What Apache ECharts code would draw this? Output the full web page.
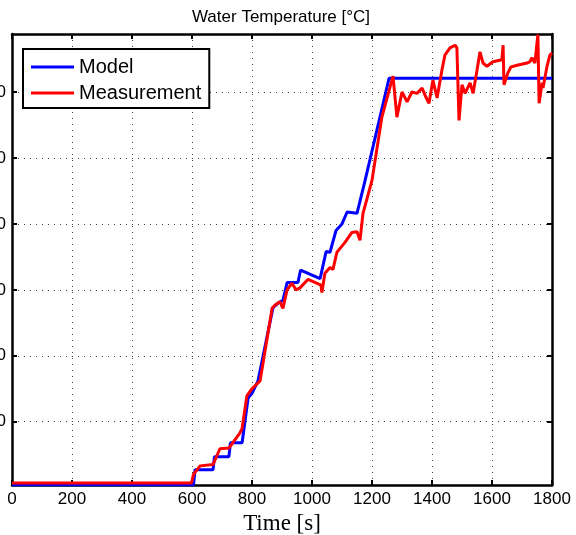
<!DOCTYPE html>
<html>
<head>
<meta charset="utf-8">
<script src="https://cdn.jsdelivr.net/npm/echarts@6/dist/echarts.min.js"></script>
<style>html,body{margin:0;padding:0;background:#fff}#c{width:576px;height:535px}</style>
</head>
<body>
<div id="c"></div>
<script>
const titleText = 'Water Temperature [°C]';
const xAxisName = 'Time [s]';
const seriesNames = ['Model', 'Measurement'];
const xTicks = [0, 200, 400, 600, 800, 1000, 1200, 1400, 1600, 1800];
const yTicks = [20, 30, 40, 50, 60, 70];
const yMin = 10.4, yMax = 78.8;

const modelData = [[0,10.4],[605,10.4],[610,12.7],[670,12.7],[675,14.7],[723,14.7],[728,16.8],[767,16.8],[787,23.6],[800,24.3],[820,26.2],[870,37.3],[887,38.0],[903,38.4],[917,41.1],[953,41.1],[962,43.0],[1027,41.7],[1047,45.8],[1060,45.7],[1080,49.0],[1100,50.0],[1117,51.8],[1150,51.6],[1177,56.6],[1257,72.1],[1800,72.1]];

const measData = [[0,10.7],[598,10.7],[605,12.0],[627,13.3],[670,13.5],[693,15.9],[723,16.0],[760,18.3],[767,19.0],[783,23.9],[800,25.0],[827,26.2],[867,37.2],[877,37.7],[893,38.2],[903,37.2],[917,40.0],[933,41.0],[947,40.0],[960,40.3],[987,41.6],[1030,40.7],[1033,39.6],[1043,42.5],[1060,43.4],[1070,43.1],[1083,45.7],[1110,47.2],[1133,48.7],[1150,48.8],[1160,47.5],[1170,51.6],[1200,56.6],[1233,66.2],[1270,72.4],[1283,66.2],[1300,70.0],[1317,68.5],[1333,70.0],[1350,69.8],[1367,70.6],[1380,69.2],[1390,68.3],[1403,71.8],[1417,69.1],[1433,73.3],[1443,75.6],[1460,76.7],[1477,77.1],[1483,76.7],[1490,65.7],[1500,71.1],[1510,69.8],[1527,71.4],[1537,69.8],[1550,73.3],[1560,76.1],[1570,74.4],[1583,73.9],[1603,74.6],[1633,74.9],[1637,77.1],[1640,71.1],[1653,72.9],[1663,73.8],[1687,74.1],[1717,74.4],[1727,74.6],[1733,75.2],[1743,74.4],[1753,78.7],[1757,68.3],[1767,71.4],[1770,70.6],[1783,73.8],[1793,75.6],[1800,75.9]];

const chart = echarts.init(document.getElementById('c'));
const axisLineStyle = {color:'#000', width:2.5};
const splitStyle = {show:true, lineStyle:{color:'#444', type:[1,5], width:1}};
const tickStyle = {show:true, inside:true, length:5, lineStyle:{color:'#000', width:2}};
const labelFont = '"Liberation Sans", Arial, sans-serif';
chart.setOption({
  animation:false,
  backgroundColor:'#fff',
  graphic:[{type:'text', x:281, y:17, style:{text:titleText, align:'center', verticalAlign:'middle', font:'17px "Liberation Sans", Arial, sans-serif', fill:'#000'}}],
  grid:{left:12, right:24, top:34, bottom:50, containLabel:false, outerBoundsMode:'none'},
  legend:{
    orient:'vertical', left:23, top:49,
    data:seriesNames.map(n => ({name:n, icon:'rect'})),
    backgroundColor:'#fff', borderColor:'#000', borderWidth:2,
    padding:[8,8,5,8], itemGap:6, itemWidth:43, itemHeight:3,
    textStyle:{fontSize:20, fontFamily:labelFont, color:'#000'}
  },
  xAxis:[{
    type:'value', min:xTicks[0], max:xTicks[xTicks.length-1], interval:xTicks[1]-xTicks[0],
    name:xAxisName, nameLocation:'middle', nameGap:27,
    nameTextStyle:{fontSize:23, fontFamily:'"Liberation Serif", "Times New Roman", serif', color:'#000'},
    axisLine:{show:true, onZero:false, lineStyle:axisLineStyle},
    axisTick:tickStyle,
    axisLabel:{fontSize:17, fontFamily:labelFont, color:'#000', margin:6, formatter:v => String(v)},
    splitLine:splitStyle
  },{
    type:'value', position:'top', min:xTicks[0], max:xTicks[xTicks.length-1], interval:xTicks[1]-xTicks[0],
    axisLine:{show:true, onZero:false, lineStyle:axisLineStyle},
    axisTick:tickStyle,
    axisLabel:{show:false}, splitLine:{show:false}
  }],
  yAxis:[{
    type:'value', min:yMin, max:yMax,
    axisLine:{show:true, onZero:false, lineStyle:axisLineStyle},
    axisTick:Object.assign({customValues:yTicks}, tickStyle),
    axisLabel:{fontSize:17, fontFamily:labelFont, color:'#000', margin:6, customValues:yTicks, formatter:v => String(v)},
    splitLine:splitStyle
  },{
    type:'value', position:'right', min:yMin, max:yMax,
    axisLine:{show:true, onZero:false, lineStyle:axisLineStyle},
    axisTick:Object.assign({customValues:yTicks}, tickStyle),
    axisLabel:{show:false, customValues:yTicks}, splitLine:{show:false}
  }],
  series:[
    {name:seriesNames[0], type:'line', data:modelData, symbol:'none', showSymbol:false, lineStyle:{color:'#0000ff', width:3}, itemStyle:{color:'#0000ff'}, z:2},
    {name:seriesNames[1], type:'line', data:measData, symbol:'none', showSymbol:false, lineStyle:{color:'#ff0000', width:3}, itemStyle:{color:'#ff0000'}, z:3}
  ]
});
</script>
</body>
</html>
